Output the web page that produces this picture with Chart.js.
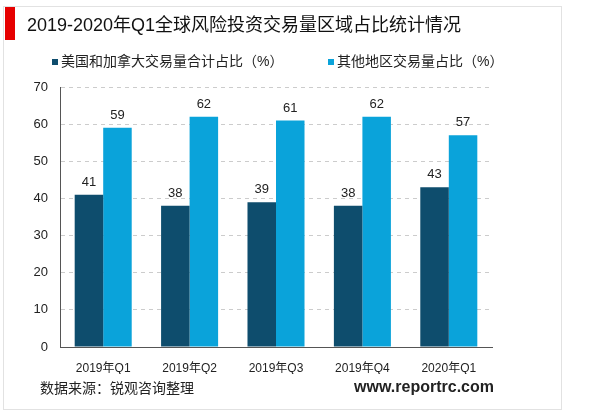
<!DOCTYPE html>
<html>
<head>
<meta charset="utf-8">
<script src="https://cdn.jsdelivr.net/npm/chart.js@4"></script>
<style>
  html, body { margin: 0; padding: 0; background: #fff; }
  #wrap { width: 600px; height: 414px; position: relative; }
</style>
</head>
<body>
<div id="wrap"><canvas id="chart" width="600" height="414"></canvas></div>
<script>
// chart data
const quarters = ['2019年Q1', '2019年Q2', '2019年Q3', '2019年Q4', '2020年Q1'];
const naShare = [41, 38, 39, 38, 43];
const otherShare = [59, 62, 61, 62, 57];
const seriesNames = ['美国和加拿大交易量合计占比（%）', '其他地区交易量占比（%）'];
const titleText = '2019-2020年Q1全球风险投资交易量区域占比统计情况';
const sourceText = '数据来源：锐观咨询整理';
const siteText = 'www.reportrc.com';

const FONT = "'Liberation Sans', 'Noto Sans CJK SC', sans-serif";

// frame, title, legend, footer
const decor = {
    id: 'decor',
    beforeDraw(chart) {
        const c = chart.ctx;
        c.save();
        c.fillStyle = '#fff';
        c.fillRect(0, 0, chart.width, chart.height);
        c.strokeStyle = '#e2e2e2';
        c.lineWidth = 1;
        c.strokeRect(3.5, 6.5, 558, 403);
        c.fillStyle = '#e60000';
        c.fillRect(5, 7, 10, 33);
        c.fillStyle = '#111';
        c.font = '18px ' + FONT;
        c.textBaseline = 'middle';
        c.fillText(titleText, 27, 26);
        c.restore();
    },
    afterDraw(chart) {
        const c = chart.ctx;
        c.save();
        c.textBaseline = 'middle';
        c.font = '14px ' + FONT;
        const legendX = [52, 328];
        chart.data.datasets.forEach((ds, i) => {
            c.fillStyle = ds.backgroundColor;
            c.fillRect(legendX[i], 59, 6, 6);
            c.fillStyle = '#222';
            c.fillText(ds.label, legendX[i] + 9, 62);
        });
        c.fillStyle = '#222';
        c.font = '14px ' + FONT;
        c.fillText(sourceText, 40, 389);
        c.font = 'bold 16px ' + FONT;
        c.textAlign = 'right';
        c.fillText(siteText, 494, 388);
        c.restore();
    }
};

// value labels above the bars
const barLabels = {
    id: 'barLabels',
    afterDatasetsDraw(chart) {
        const c = chart.ctx;
        c.save();
        c.font = '13px ' + FONT;
        c.fillStyle = '#222';
        c.textAlign = 'center';
        c.textBaseline = 'bottom';
        chart.data.datasets.forEach((ds, i) => {
            chart.getDatasetMeta(i).data.forEach((bar, j) => {
                c.fillText(ds.data[j], bar.x, bar.y - 6);
            });
        });
        c.restore();
    }
};

new Chart(document.getElementById('chart'), {
    type: 'bar',
    data: {
        labels: quarters,
        datasets: [{
            label: seriesNames[0],
            data: naShare,
            backgroundColor: '#0e4d6d'
        }, {
            label: seriesNames[1],
            data: otherShare,
            backgroundColor: '#0aa3da'
        }]
    },
    options: {
        responsive: false,
        animation: false,
        devicePixelRatio: 1,
        layout: { padding: { left: 0, right: 108, top: 87, bottom: 40 } },
        datasets: { bar: { categoryPercentage: 0.66, barPercentage: 1.0 } },
        plugins: {
            legend: { display: false },
            title: { display: false },
            tooltip: { enabled: false }
        },
        scales: {
            x: {
                grid: { display: false },
                border: { display: true, color: '#555', width: 1 },
                ticks: { color: '#222', font: { family: FONT, size: 12 }, padding: 6, maxRotation: 0 },
                afterFit(s) { s.height = 27; }
            },
            y: {
                min: 0,
                max: 70,
                ticks: { stepSize: 10, color: '#222', font: { family: FONT, size: 13 }, padding: 12 },
                grid: { color: '#cccccc', drawTicks: false },
                border: { display: true, color: '#555', width: 1, dash: [4, 4] },
                afterFit(s) { s.width = 60; }
            }
        }
    },
    plugins: [decor, barLabels]
});
</script>
</body>
</html>
